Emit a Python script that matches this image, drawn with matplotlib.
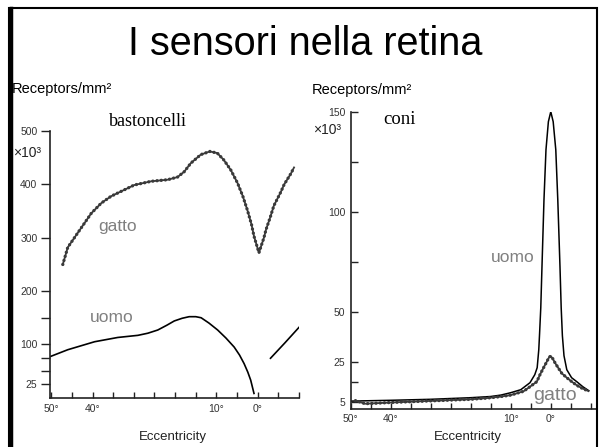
import numpy as np
import matplotlib.pyplot as plt
from matplotlib.patches import Rectangle
from matplotlib.lines import Line2D

# bastoncelli (rods): eccentricity in degrees, density in 10^3 receptors/mm^2
rods_cat_ecc = [47.2, 46.0, 43.6, 40.3, 37.9, 35.5, 32.3, 29.9, 25.8, 21.8, 19.4, 17.8,
                16.2, 13.8, 11.6, 9.8, 8.2, 6.5, 4.9, 3.6, 2.5, 1.5, 0.9, -0.3, -1.5,
                -2.0, -3.1, -3.9, -5.6, -6.4, -8.0, -8.8]
rods_cat_val = [250, 282, 309, 346, 365, 378, 390, 399, 406, 409, 414, 424,
                440, 456, 462, 459, 446, 427, 403, 378, 352, 325, 303, 272, 300,
                315, 340, 360, 386, 400, 420, 432]
rods_man_ecc = [50.3, 46.0, 39.5, 33.9, 29.0, 26.6, 24.2, 22.0, 20.2, 18.3, 16.6, 15.0,
                13.7, 11.8, 9.7, 7.7, 5.7, 4.4, 3.3, 2.4, 1.7, 0.9]
rods_man_val = [77, 90, 105, 113, 117, 121, 127, 136, 144, 149, 152, 152,
                150, 140, 127, 112, 95, 80, 64, 48, 33, 8]
rods_man_nasal_ecc = [-3.1, -6.6, -10.0]
rods_man_nasal_val = [74, 103, 132]

# coni (cones)
cones_man_ecc = [50, 40, 30, 20, 15, 12.5, 10, 7.5, 5.2, 4.0, 3.4, 3.0, 2.8, 2.5, 2.2,
                 1.7, 1.2, 0.6, 0, -0.6, -1.25, -1.75, -2.3, -2.6, -2.9, -3.3, -4.0,
                 -5.2, -6.5, -8.0, -9.5]
cones_man_val = [5.3, 5.7, 6.2, 7.0, 7.6, 8.3, 9.5, 11.0, 14.5, 18.5, 22, 31, 39, 52, 72.5,
                 106, 131, 145, 150, 145, 131, 106, 72.5, 52, 38, 28, 21,
                 17, 15, 12.5, 10.5]
cones_cat_ecc = [48.8, 46.4, 43.0, 40.0, 35.0, 30.0, 25.0, 20.0, 16.0, 12.7, 10.0, 8.5,
                 6.8, 5.2, 3.5, 2.7, 1.8, 1.0, 0.4, 0.0, -0.5, -1.1, -2.0, -2.75, -4.0,
                 -5.25, -6.5, -7.75, -9.4]
cones_cat_val = [5.5, 4.0, 4.3, 4.6, 5.0, 5.4, 5.8, 6.2, 6.8, 7.5, 8.3, 9.2,
                 10.2, 12.5, 15, 18.5, 22, 25, 27.3, 27.8, 26.5, 24.3, 21.5, 19.2, 17,
                 15, 13.2, 11.8, 10.3]

ecc_ticks = [50, 40, 10, 0]
ecc_labels = ['50°', '40°', '10°', '0°']
ecc_minor = [45, 35, 30, 25, 20, 15, 5, -5, -10]
rods_yticks = [25, 100, 200, 300, 400, 500]
rods_yminor = [50, 75, 150]
cones_yticks = [5, 25, 50, 100, 150]
cones_yminor = [15, 75, 125]

plt.rcParams['font.family'] = ['Liberation Sans', 'DejaVu Sans']

W, H = 600, 447
fig = plt.figure(figsize=(6, 4.47), dpi=100)


def box(x0, y0, x1, y1):
    return [x0 / W, 1 - y1 / H, (x1 - x0) / W, (y1 - y0) / H]


def ftext(x, y, s, **kw):
    fig.text(x / W, 1 - y / H, s, **kw)


def beaded(ax, x, y):
    ax.plot(x, y, color='#3a3a3a', lw=1.3, zorder=3)
    ax.plot(x, y, color='#3a3a3a', lw=2.4, ls=(0, (0.01, 1.25)),
            dash_capstyle='round', zorder=3)


def style(ax, ypad, ydir, ylen):
    for s in ['top', 'right']:
        ax.spines[s].set_visible(False)
    for s in ['left', 'bottom']:
        ax.spines[s].set_linewidth(1.2)
        ax.spines[s].set_color('#222222')
    ax.set_xticks(ecc_ticks, ecc_labels)
    ax.set_xticks(ecc_minor, minor=True)
    ax.tick_params(axis='x', which='both', direction='in', length=4.5, width=1,
                   labelsize=7.5, labelcolor='#333333', color='#222222')
    ax.tick_params(axis='y', which='both', direction=ydir, length=ylen, width=1,
                   pad=ypad, labelsize=7.5, labelcolor='#333333', color='#222222')
    ax.patch.set_alpha(0)


# rods panel
ax1 = fig.add_axes(box(50, 131.2, 299, 397.7))
beaded(ax1, rods_cat_ecc, rods_cat_val)
ax1.plot(rods_man_ecc, rods_man_val, color='black', lw=1.2)
ax1.plot(rods_man_nasal_ecc, rods_man_nasal_val, color='black', lw=1.2)
ax1.set_xlim(50.3, -9.8)
ax1.set_ylim(0, 500)
ax1.set_yticks(rods_yticks)
ax1.set_yticks(rods_yminor, minor=True)
style(ax1, 2.5, 'out', 6.5)
ax1.tick_params(axis='x', pad=4.5)

# cones panel
ax2 = fig.add_axes(box(350.7, 111.7, 596, 409.3))
ax2.plot(cones_man_ecc, cones_man_val, color='black', lw=1.1)
beaded(ax2, cones_cat_ecc, cones_cat_val)
ax2.set_xlim(50, -11.3)
ax2.set_ylim(1.2, 150)
ax2.set_yticks(cones_yticks)
ax2.set_yticks(cones_yminor, minor=True)
style(ax2, 4, 'in', 5)
ax2.tick_params(axis='x', pad=3.5)

# texts
ftext(305, 44, 'I sensori nella retina', ha='center', va='center', fontsize=28.5)
ftext(12, 89, 'Receptors/mm²', ha='left', va='center', fontsize=10.5)
ftext(312, 90, 'Receptors/mm²', ha='left', va='center', fontsize=10.5)
ftext(13, 153, '×10³', ha='left', va='center', fontsize=10, color='#222222')
ftext(313, 130, '×10³', ha='left', va='center', fontsize=10, color='#222222')
ftext(148, 121, 'bastoncelli', ha='center', va='center', fontsize=13,
      family=['Liberation Serif', 'DejaVu Serif'])
ftext(400, 120, 'coni', ha='center', va='center', fontsize=13.5,
      family=['Liberation Serif', 'DejaVu Serif'])
ftext(118, 226, 'gatto', ha='center', va='center', fontsize=12.5, color='#808080')
ftext(112, 318, 'uomo', ha='center', va='center', fontsize=12.5, color='#808080')
ftext(513, 258, 'uomo', ha='center', va='center', fontsize=12.5, color='#808080')
ftext(555, 396, 'gatto', ha='center', va='center', fontsize=14, color='#808080')
ftext(173, 437, 'Eccentricity', ha='center', va='center', fontsize=9.5, color='#222222')
ftext(468, 437, 'Eccentricity', ha='center', va='center', fontsize=9.5, color='#222222')

# slide frame
fig.add_artist(Rectangle((9 / W, -0.01), 588 / W, 1.01 - 8 / H, fill=False,
                         lw=1.5, edgecolor='black', transform=fig.transFigure))
fig.add_artist(Line2D([10.5 / W, 10.5 / W], [0, 1 - 8 / H], lw=2.5, color='black',
                      transform=fig.transFigure))

fig.savefig('out.png', dpi=100)
